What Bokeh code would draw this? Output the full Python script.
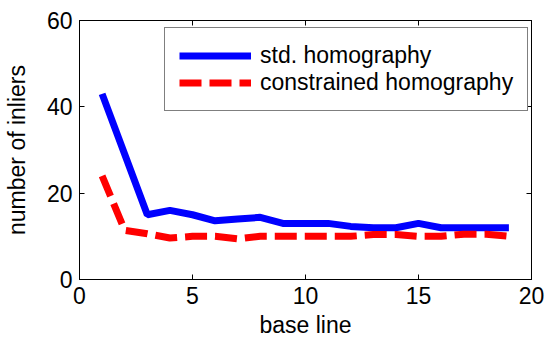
from bokeh.plotting import figure
from bokeh.models import (Range1d, LinearAxis, FixedTicker, Legend, LegendItem,
                          CustomJSTickFormatter)
from bokeh.embed import file_html
from bokeh.resources import INLINE

base_line = list(range(1, 20))
std_homography = [43, 29, 15, 16, 15, 13.6, 14, 14.4, 13, 13, 13, 12.3, 12, 12, 13, 12, 12, 12, 12]
constrained_homography = [24, 11.4, 10.6, 9.6, 10, 10, 9.4, 10, 10, 10, 10, 10, 10.4, 10.4, 10, 10, 10.5, 10.5, 10]
x_ticks = [0, 5, 10, 15, 20]
y_ticks = [0, 20, 40, 60]

FONT = "Liberation Sans"
FS = "23px"

p = figure(width=548, height=343, output_backend="svg", toolbar_location=None,
           x_range=Range1d(0, 20), y_range=Range1d(0, 60),
           min_border_left=79, min_border_right=17, min_border_top=20, min_border_bottom=64)
p.grid.visible = False
p.background_fill_color = "white"
p.border_fill_color = "white"
p.outline_line_color = "black"
p.outline_line_width = 1

for ax in (p.xaxis[0], p.yaxis[0]):
    ax.major_tick_in = 5
    ax.major_tick_out = 0
    ax.minor_tick_line_color = None
    ax.axis_line_color = "black"
    ax.major_tick_line_color = "black"
    ax.major_label_text_font = FONT
    ax.major_label_text_font_size = FS
    ax.major_label_text_color = "black"
    ax.axis_label_text_font = FONT
    ax.axis_label_text_font_size = FS
    ax.axis_label_text_font_style = "normal"
    ax.axis_label_text_color = "black"

p.xaxis[0].ticker = FixedTicker(ticks=x_ticks)
p.yaxis[0].ticker = FixedTicker(ticks=y_ticks)
p.xaxis[0].axis_label = "base line"
p.yaxis[0].axis_label = "number of inliers"
p.xaxis[0].major_label_standoff = 7
p.xaxis[0].axis_label_standoff = 5
p.yaxis[0].major_label_standoff = 7
p.yaxis[0].axis_label_standoff = 14

for loc, ticks in (("above", x_ticks), ("right", y_ticks)):
    ax = LinearAxis(ticker=FixedTicker(ticks=ticks),
                    formatter=CustomJSTickFormatter(code="return '';"))
    ax.major_tick_in = 5
    ax.major_tick_out = 0
    ax.minor_tick_line_color = None
    ax.major_label_standoff = 0
    ax.major_label_text_font_size = "1px"
    ax.axis_line_color = "black"
    ax.major_tick_line_color = "black"
    p.add_layout(ax, loc)

r1 = p.line(base_line, std_homography, line_color="#0000FF", line_width=7)
r2 = p.line(base_line, constrained_homography, line_color="#FF0000", line_width=7,
            line_dash="22 8")

legend = Legend(items=[LegendItem(label="std. homography", renderers=[r1]),
                       LegendItem(label="constrained homography", renderers=[r2])],
                location=(85, 168), padding=14, spacing=0,
                label_height=25, glyph_height=25, glyph_width=72, label_standoff=9,
                label_text_font=FONT, label_text_font_size=FS, label_text_color="black",
                border_line_color="black", border_line_width=1,
                background_fill_color="white", background_fill_alpha=1.0, margin=0)
p.add_layout(legend, "center")

open("out.html", "w").write(file_html(p, INLINE))
